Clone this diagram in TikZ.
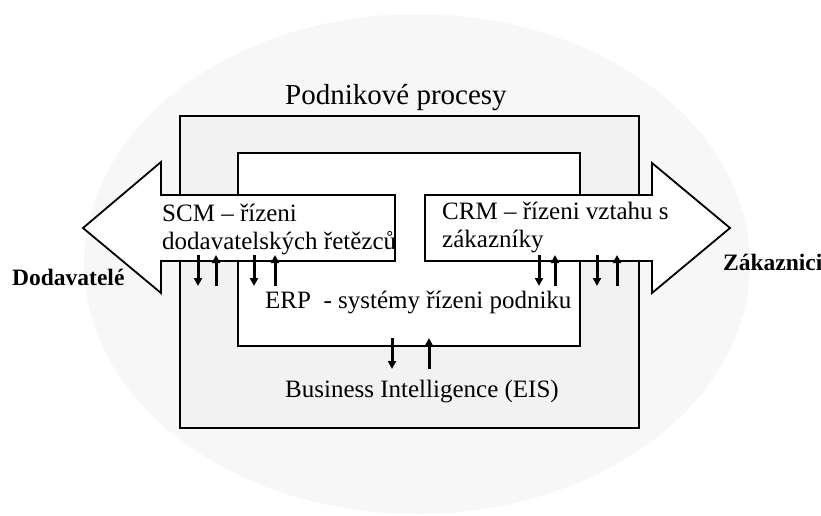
\documentclass[tikz,border=0pt]{standalone}
\usepackage{fontspec}
\setmainfont{Liberation Serif}
\usetikzlibrary{arrows.meta}
\begin{document}
\begin{tikzpicture}[x=1pt,y=-1pt,
  box/.style={draw=black,line width=1.8pt},
  bigarrow/.style={draw=black,fill=white,line width=1.8pt,line join=miter},
  flow/.style={line width=3pt,-{Triangle[width=8pt,length=8pt]}},
  lbl/.style={inner sep=0pt,anchor=base west,font=\fontsize{25}{28}\selectfont},
  ttl/.style={inner sep=0pt,anchor=base west,font=\fontsize{29}{32}\selectfont},
  side/.style={inner sep=0pt,anchor=base west,font=\fontsize{23.5}{28}\selectfont\bfseries}]
\useasboundingbox (0,0) rectangle (821,515);
% background ellipse
\fill[gray!6] (417,264) ellipse [x radius=333, y radius=250];
% enterprise processes frame
\draw[box,fill=gray!10] (180,116) rectangle (639,428);
% ERP box
\draw[box,fill=white] (238,153) rectangle (580,346);
% big arrows
\draw[bigarrow] (395,195) -- (161,195) -- (161,162) -- (83,228) -- (161,293) -- (161,261) -- (395,261) -- cycle;
\draw[bigarrow] (425,195) -- (652,195) -- (652,163) -- (730,228) -- (652,293) -- (652,261) -- (425,261) -- cycle;
% texts
\node[ttl] (proc) at (285,104) {Podnikové procesy};
\node[lbl] (scm1) at (162,221) {SCM – řízeni};
\node[lbl] (scm2) at (162,249) {dodavatelských řetězců};
\node[lbl] (crm1) at (442,219) {CRM – řízeni vztahu s};
\node[lbl] (crm2) at (442,247) {zákazníky};
\node[lbl] (erp) at (265,308) {ERP\ \ - systémy řízeni podniku};
\node[lbl] (bi) at (285,397) {Business Intelligence (EIS)};
\node[side] (dod) at (12,285) {Dodavatelé};
\node[side] (zak) at (723,270) {Zákaznici};
% small flow arrows: SCM <-> ERP
\foreach \n/\x in {s1/198,s2/216,s3/254,s4/275,c1/539,c2/555,c3/597,c4/617}{
  \coordinate (\n t) at (\x,255);
  \coordinate (\n b) at (\x,286);
}
\draw[flow] (s1t) -- (s1b);
\draw[flow] (s2b) -- (s2t);
\draw[flow] (s3t) -- (s3b);
\draw[flow] (s4b) -- (s4t);
\draw[flow] (c1t) -- (c1b);
\draw[flow] (c2b) -- (c2t);
\draw[flow] (c3t) -- (c3b);
\draw[flow] (c4b) -- (c4t);
% ERP <-> BI
\coordinate (e1t) at (392,338);
\coordinate (e1b) at (392,369);
\coordinate (e2t) at (429,338);
\coordinate (e2b) at (429,369);
\draw[flow] (e1t) -- (e1b);
\draw[flow] (e2b) -- (e2t);
\end{tikzpicture}
\end{document}
